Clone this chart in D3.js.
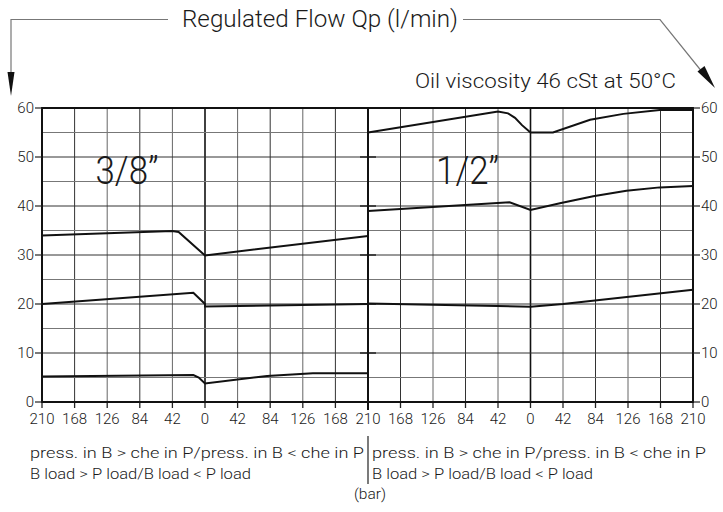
<html>
<meta charset="utf-8">
<style>
body { margin: 0; background: #fff; }
text { font-family: Roboto, "Liberation Sans", Arial, sans-serif; font-weight: 300; fill: #1a1a1a; }
.tick { font-size: 15px; }
.note { font-size: 15.5px; }
.grid { stroke: #555; stroke-width: 1; }
.spine { stroke: #111; stroke-width: 2; }
.curve { fill: none; stroke: #111; stroke-width: 2; }
.guide { stroke: #777; stroke-width: 1.2; fill: none; }
</style>
<body>
<script src="https://cdn.jsdelivr.net/npm/d3@7"></script>
<script>

/* pressure (bar): negative = left half of a panel, positive = right half */
var barTicks = [-210, -168, -126, -84, -42, 0, 42, 84, 126, 168, 210];
var flowTicks = [0, 10, 20, 30, 40, 50, 60];
var gridFlow = [5, 10, 15, 20, 25, 30, 35, 40, 45, 50, 55];

/* 3/8" panel */
var s38_top = [[-210, 34.0], [-42, 34.9], [-34, 34.7], [0, 29.9], [210, 33.9]];
var s38_mid = [[-210, 20.0], [-15, 22.3], [0, 20.0], [0, 19.5], [210, 20.0]];
var s38_low = [[-210, 5.2], [-15, 5.5], [-8, 5.0], [0, 3.8], [80, 5.3], [139, 5.85], [210, 5.85]];

/* 1/2" panel */
var s12_top = [[-210, 55], [-42, 59.3], [-29, 58.9], [-20, 58.0], [-11, 56.5], [0, 55], [29, 55],
               [77, 57.6], [120, 58.8], [167, 59.6], [210, 59.6]];
var s12_mid = [[-210, 39.0], [-27, 40.75], [0, 39.2], [38, 40.55], [81, 42.0], [124, 43.1], [167, 43.8], [210, 44.1]];
var s12_low = [[-210, 20.1], [0, 19.45], [42, 20.0], [210, 22.9]];

var W = 723, H = 512,
    x0 = 42, xMid = 368, x1 = 693,
    yTop = 108, yBot = 402;

var svg = d3.select("body").append("svg")
    .attr("width", W)
    .attr("height", H);

var y = d3.scaleLinear().domain([0, 60]).range([yBot, yTop]);
var xL = d3.scaleLinear().domain([-210, 210]).range([x0, xMid]);
var xR = d3.scaleLinear().domain([-210, 210]).range([xMid, x1]);

function panel(x, series, label, labelX) {
    var g = svg.append("g");
    // vertical grid
    g.selectAll("line.v").data(barTicks).enter().append("line")
        .attr("class", "grid")
        .attr("x1", function(d){ return x(d); }).attr("x2", function(d){ return x(d); })
        .attr("y1", yTop).attr("y2", yBot)
        .style("stroke", function(d){ return d == 0 ? "#111" : (Math.abs(d) % 84 == 0 ? "#333" : "#666"); })
        .style("stroke-width", function(d){ return d == 0 ? 1.6 : 1; });
    // horizontal grid
    g.selectAll("line.h").data(gridFlow).enter().append("line")
        .attr("class", "grid")
        .attr("x1", x(-210)).attr("x2", x(210))
        .attr("y1", function(d){ return y(d); }).attr("y2", function(d){ return y(d); })
        .style("stroke", function(d){ return d % 10 == 0 ? "#333" : "#777"; });
    // bottom tick marks
    g.selectAll("line.t").data(barTicks).enter().append("line")
        .attr("x1", function(d){ return x(d); }).attr("x2", function(d){ return x(d); })
        .attr("y1", yBot).attr("y2", yBot + 6)
        .style("stroke", "#222").style("stroke-width", 1.3);
    // curves
    var line = d3.line()
        .x(function(d){ return x(d[0]); })
        .y(function(d){ return y(d[1]); });
    g.selectAll("path.curve").data(series).enter().append("path")
        .attr("class", "curve")
        .attr("d", line);
    // size label
    g.append("text")
        .attr("x", x(labelX)).attr("y", y(44.4))
        .style("font-size", "38px")
        .attr("textLength", 63).attr("lengthAdjust", "spacingAndGlyphs")
        .text(label);
}

panel(xL, [s38_top, s38_mid, s38_low], "3/8\u201D", -141);
panel(xR, [s12_top, s12_mid, s12_low], "1/2\u201D", -122);

// frame
svg.append("rect")
    .attr("x", x0).attr("y", yTop)
    .attr("width", x1 - x0).attr("height", yBot - yTop)
    .attr("fill", "none").attr("class", "spine");
svg.append("line").attr("class", "spine")
    .attr("x1", xMid).attr("x2", xMid).attr("y1", yTop).attr("y2", yBot + 8);

// short ticks on the divider
svg.selectAll("line.mt").data(flowTicks.slice(1, 6)).enter().append("line")
    .attr("x1", xMid - 8).attr("x2", xMid + 8)
    .attr("y1", function(d){ return y(d); }).attr("y2", function(d){ return y(d); })
    .style("stroke", "#111").style("stroke-width", 1.3);

// y axes
svg.selectAll("line.yl").data(flowTicks).enter().append("line")
    .attr("x1", x0 - 7).attr("x2", x0)
    .attr("y1", function(d){ return y(d); }).attr("y2", function(d){ return y(d); })
    .style("stroke", "#222").style("stroke-width", 1.2);
svg.selectAll("line.yr").data(flowTicks).enter().append("line")
    .attr("x1", x1).attr("x2", x1 + 7)
    .attr("y1", function(d){ return y(d); }).attr("y2", function(d){ return y(d); })
    .style("stroke", "#222").style("stroke-width", 1.2);
svg.selectAll("text.yl").data(flowTicks).enter().append("text")
    .attr("class", "tick")
    .attr("x", x0 - 8).attr("y", function(d){ return y(d); })
    .attr("dy", "0.35em").attr("text-anchor", "end")
    .text(function(d){ return d; });
svg.selectAll("text.yr").data(flowTicks).enter().append("text")
    .attr("class", "tick")
    .attr("x", x1 + 8).attr("y", function(d){ return y(d); })
    .attr("dy", "0.35em")
    .text(function(d){ return d; });

// x tick labels
var xlab = [];
barTicks.forEach(function(d){ xlab.push({x: xL(d), t: Math.abs(d)}); });
barTicks.slice(1).forEach(function(d){ xlab.push({x: xR(d), t: Math.abs(d)}); });
svg.selectAll("text.xl").data(xlab).enter().append("text")
    .attr("class", "tick")
    .attr("x", function(d){ return d.x; }).attr("y", yBot + 11)
    .attr("dy", "0.71em").attr("text-anchor", "middle")
    .text(function(d){ return d.t; });

// notes under the axis
var noteL1 = "press. in B > che in P/press. in B < che in P",
    noteL2 = "B load > P load/B load < P load";
[30, 372].forEach(function(px){
    svg.append("text").attr("class", "note").attr("x", px).attr("y", 458)
        .attr("textLength", 334).attr("lengthAdjust", "spacingAndGlyphs").text(noteL1);
    svg.append("text").attr("class", "note").attr("x", px).attr("y", 479)
        .attr("textLength", 221).attr("lengthAdjust", "spacingAndGlyphs").text(noteL2);
});
svg.append("line")
    .attr("x1", xMid).attr("x2", xMid).attr("y1", 436).attr("y2", 484)
    .style("stroke", "#222").style("stroke-width", 1.2);
svg.append("text").attr("class", "note")
    .attr("x", xMid + 2).attr("y", 499).attr("text-anchor", "middle")
    .text("(bar)");

// title and arrows
svg.append("text")
    .attr("x", 320).attr("y", 27)
    .attr("text-anchor", "middle")
    .style("font-size", "24px")
    .attr("textLength", 276).attr("lengthAdjust", "spacingAndGlyphs")
    .text("Regulated Flow Qp (l/min)");
svg.append("path").attr("class", "guide")
    .attr("d", "M168,19.5 H11 V80");
svg.append("path").attr("class", "guide")
    .attr("d", "M463,19.5 H660 L707,78");
svg.append("path").attr("fill", "#111")
    .attr("d", "M7.5,72 L14.5,72 L11,96 Z");
svg.append("path").attr("fill", "#111")
    .attr("d", "M715,88 L697.5,71.5 L704.5,66 Z");

svg.append("text")
    .attr("x", 676).attr("y", 88)
    .attr("text-anchor", "end")
    .style("font-size", "21px")
    .attr("textLength", 261).attr("lengthAdjust", "spacingAndGlyphs")
    .text("Oil viscosity 46 cSt at 50\u00B0C");

</script>
</body>
</html>
